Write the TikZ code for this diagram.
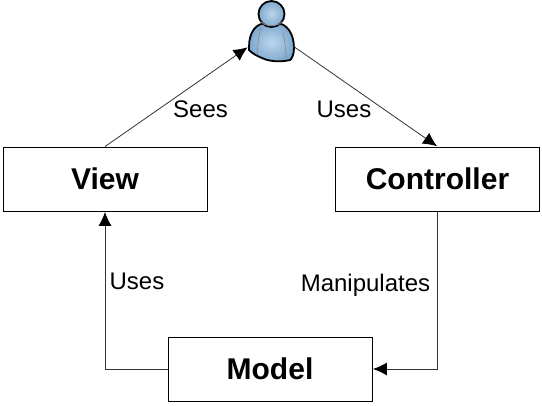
\documentclass[tikz,border=0pt]{standalone}
\usepackage{fontspec}
\setmainfont{Liberation Sans}
\usetikzlibrary{arrows.meta,positioning,shadows}
\definecolor{userblue}{HTML}{7FA9CF}
\definecolor{userlight}{HTML}{BCD5EA}
\tikzset{
    mvcbox/.style={rectangle,draw,fill=white,line width=0.9pt,align=center,minimum width=204pt,minimum height=64pt,inner sep=0pt,font=\fontsize{30}{32}\selectfont\bfseries,drop shadow={opacity=0.2,shadow xshift=0pt,shadow yshift=-1.5pt}},
    mvclabel/.style={font=\fontsize{24}{26}\selectfont,inner sep=0pt,fill=white},
    mvcline/.style={-{Latex[length=14pt,width=13pt,color=black]},line width=0.8pt,black!80,shorten >=0.5pt},
    userline/.style={line width=1.8pt,black},
    userfold/.style={line width=0.7pt,black!45}
}
\begin{document}
\begin{tikzpicture}[x=1pt,y=-1pt]
            \useasboundingbox (0,0) rectangle (542,406);
            \node[mvcbox] (view) at (105,179) {View};
            \node[mvcbox] (controller) at (437.5,179) {Controller};
            \node[mvcbox] (model) at (270,369) {Model};
            \coordinate (userleft) at (248,47);
            \coordinate (userright) at (293,46);
            \draw[userline,inner color=userlight,outer color=userblue] (249,47) .. controls (249,32) and (256,23) .. (267,23) -- (276,23) .. controls (287,23) and (294,34) .. (294,48) .. controls (294,54) and (292,59) .. (290,60) .. controls (282,62) and (270,62) .. (262,58) .. controls (257,56) and (253,54) .. (249,50) -- cycle;
            \draw[userfold] (261,28) .. controls (258,36) and (258,46) .. (257,54);
            \draw[userfold] (283,33) .. controls (285,40) and (286,50) .. (286,59);
            \draw[userline,inner color=userlight,outer color=userblue] (271.5,14) circle[radius=13];
            \draw[userfold] (261,22) .. controls (266,27) and (277,27) .. (282,22);
            \draw[mvcline] (view.north) -- (userleft);
            \draw[mvcline] (userright) -- (controller.north);
            \draw[mvcline] (model.west) -| (view.south);
            \draw[mvcline] (controller.south) |- (model.east);
            \node[mvclabel] (sees) at (200.5,109) {Sees};
            \node[mvclabel] (usesright) at (344,109) {Uses};
            \node[mvclabel] (usesleft) at (137,281) {Uses};
            \node[mvclabel] (manipulates) at (365.5,285) {Manipulates};
        \end{tikzpicture}
\end{document}
